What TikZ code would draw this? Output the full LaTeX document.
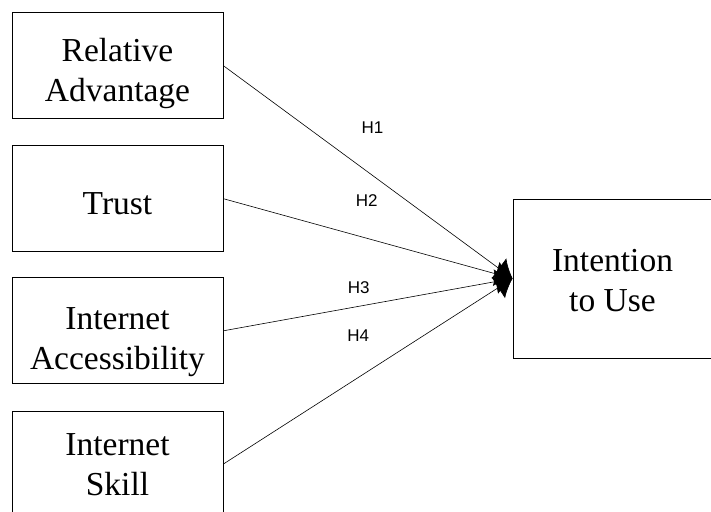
\documentclass[tikz,border=0pt]{standalone}
\usepackage{fontspec}
\setmainfont{Liberation Serif}
\newfontfamily\hypfont{Liberation Sans}
\usepackage{tikz}
\usetikzlibrary{arrows.meta}

\tikzset{
    factor/.style={draw, line width=0.8pt, minimum width=211pt, minimum height=106pt,
        align=center, font=\fontsize{33.5}{40}\selectfont, text depth=2.4pt},
    hyp/.style={font=\hypfont\fontsize{17}{19}\selectfont},
    link/.style={-{Latex[length=17pt, width=25pt]}, line width=0.6pt}
}

\begin{document}
\begin{tikzpicture}[x=1pt, y=-1pt]
                \useasboundingbox (0, 0) rectangle (711, 511);
                \clip (0, 0) rectangle (711, 511);

                \node[factor, text height=73pt] (ra) at (117.5, 65.7) {Relative\\Advantage};
                \node[factor, text height=33pt] (tr) at (117.5, 198.7) {Trust};
                \node[factor, text height=79.4pt] (ia) at (117.5, 330.8) {Internet\\Accessibility};
                \node[factor, text height=64.4pt] (is) at (117.5, 464) {Internet\\Skill};

                \node[factor, minimum width=199pt, minimum height=159pt, text height=68.8pt] (iu) at (612.5, 278.5) {Intention\\to Use};

                \node[hyp] (h1) at (372.5, 127.5) {H1};
                \node[hyp] (h2) at (366.7, 201) {H2};
                \node[hyp] (h3) at (358.7, 287.5) {H3};
                \node[hyp] (h4) at (358.3, 336) {H4};

                \draw[link] (ra.east) -- (iu.west);
                \draw[link] (tr.east) -- (iu.west);
                \draw[link] (ia.east) -- (iu.west);
                \draw[link] (is.east) -- (iu.west);
            \end{tikzpicture}
\end{document}
